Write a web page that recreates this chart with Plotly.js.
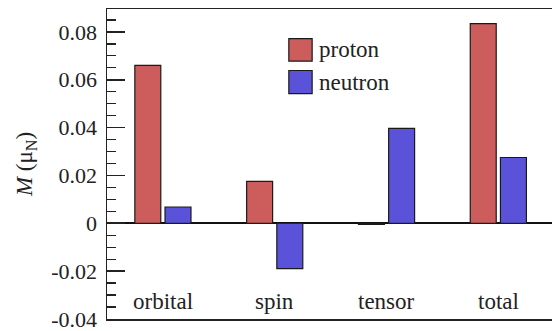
<!DOCTYPE html>
<html>
<head>
<meta charset="utf-8">
<script src="https://cdn.plot.ly/plotly-3.0.1.min.js"></script>
<style>html,body{margin:0;padding:0;background:#fff;}#chart{width:552px;height:331px;}</style>
</head>
<body>
<div id="chart"></div>
<script>
const categories = ["orbital", "spin", "tensor", "total"];
const seriesNames = ["proton", "neutron"];
const protonValues = [0.066, 0.0175, -0.0005, 0.0835];
const neutronValues = [0.0068, -0.019, 0.0397, 0.0275];
const yTickVals = [-0.04, -0.02, 0, 0.02, 0.04, 0.06, 0.08];
const yTickText = ["-0.04", "-0.02", "0", "0.02", "0.04", "0.06", "0.08"];

const colors = ["#cd5c5c", "#5a53d9"];
const FONT = "'Liberation Serif', 'Times New Roman', Times, serif";

const traces = [protonValues, neutronValues].map((vals, i) => ({
  type: "bar",
  name: seriesNames[i],
  x: categories,
  y: vals,
  marker: {color: colors[i], line: {color: "#1a1a1a", width: 1.2}},
  showlegend: false,
  hoverinfo: "skip"
}));

// custom legend (large swatches as in reference)
const legendRows = [
  {y0: 0.832, y1: 0.9045, ty: 0.868},
  {y0: 0.7267, y1: 0.8016, ty: 0.764}
];
const shapes = legendRows.map((r, i) => ({
  type: "rect", xref: "paper", yref: "paper",
  x0: 0.4086, x1: 0.461, y0: r.y0, y1: r.y1,
  fillcolor: colors[i], line: {color: "#1a1a1a", width: 1.2}
}));
const annotations = legendRows.map((r, i) => ({
  xref: "paper", yref: "paper", x: 0.4716, y: r.ty,
  xanchor: "left", yanchor: "middle", showarrow: false,
  text: seriesNames[i], font: {family: FONT, size: 23, color: "#222"}
})).concat(categories.map(c => ({
  xref: "x", yref: "paper", x: c, y: 0.055,
  xanchor: "center", yanchor: "middle", showarrow: false,
  text: c, font: {family: FONT, size: 23, color: "#222"}
})));

const layout = {
  width: 552, height: 331,
  margin: {l: 107, r: 0, t: 9, b: 12},
  paper_bgcolor: "#fff", plot_bgcolor: "#fff",
  font: {family: FONT, size: 22, color: "#222"},
  barmode: "group",
  bargap: 0.46,
  bargroupgap: 0.14,
  xaxis: {
    type: "category",
    range: [-0.5, 3.48],
    showticklabels: false,
    ticks: "",
    showgrid: false,
    zeroline: false,
    showline: true, linecolor: "#222", linewidth: 1.5,
    mirror: true
  },
  yaxis: {
    range: [-0.04005, 0.0896],
    tickmode: "array",
    tickvals: yTickVals,
    ticktext: yTickText,
    ticks: "inside", ticklen: 18, tickwidth: 1.5, tickcolor: "#222",
    minor: {dtick: 0.005, tick0: 0, ticks: "inside", ticklen: 9, tickwidth: 1.2, tickcolor: "#222", showgrid: false},
    showgrid: false,
    zeroline: true, zerolinecolor: "#111", zerolinewidth: 1.5,
    showline: true, linecolor: "#222", linewidth: 1.5,
    ticklabelstandoff: 4,
    ticklabeloverflow: "allow",
    tickfont: {family: FONT, size: 22, color: "#222"},
    title: {text: "<i>M</i> (μ<sub>N</sub>)", font: {family: FONT, size: 23, color: "#222"}, standoff: 12}
  },
  shapes: shapes,
  annotations: annotations
};

Plotly.newPlot("chart", traces, layout, {staticPlot: true, displayModeBar: false});
</script>
</body>
</html>
